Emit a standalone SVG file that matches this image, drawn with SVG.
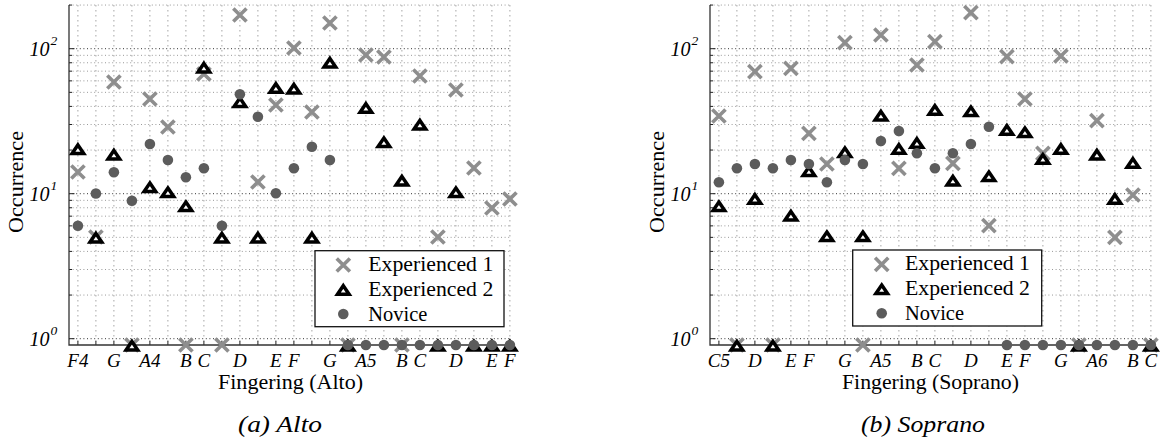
<svg xmlns="http://www.w3.org/2000/svg" xmlns:xlink="http://www.w3.org/1999/xlink" width="1165" height="441" viewBox="0 0 1165 441">
<style>
text{font-family:"Liberation Serif",serif;fill:#000}
.it{font-style:italic}
.gmaj{stroke:#333;stroke-width:1;stroke-dasharray:1 2.6;fill:none}
.gmin{stroke:#999;stroke-width:1;stroke-dasharray:1 2.6;fill:none}
.gv{stroke:#a5a5a5;stroke-width:1;stroke-dasharray:1.5 3.5;fill:none}
.tk{stroke:#222;stroke-width:1;fill:none}
.ax{stroke:#333;stroke-width:1.3;fill:none}
.e1{stroke:#8e8e8e;stroke-width:3.6;fill:none}
.e2{stroke:#000;stroke-width:3.5;fill:#fff;stroke-linejoin:miter}
.nv{fill:#5c5c5c;stroke:none}
.lg{fill:#fff;stroke:#111;stroke-width:1.3}
.yl{font-size:20px}
.ye{font-size:13.5px}
.xl{font-size:19px}
.lab{font-size:21px}
.cap{font-size:22.5px}
</style>
<defs>
<path id="mx" d="M-6.6-6.6L6.6 6.6M-6.6 6.6L6.6-6.6"/>
<path id="mt" d="M0-3.6L5.8 4.9L-5.8 4.9Z"/>
<circle id="mc" r="5.3"/>
<g id="frame">
<path class="gv" d="M77.9 5V345M95.9 5V345M113.9 5V345M131.9 5V345M149.9 5V345M167.9 5V345M185.9 5V345M203.9 5V345M221.9 5V345M239.9 5V345M257.9 5V345M275.9 5V345M293.9 5V345M311.9 5V345M329.9 5V345M347.9 5V345M365.9 5V345M383.9 5V345M401.9 5V345M419.9 5V345M437.9 5V345M455.9 5V345M473.9 5V345M491.9 5V345M509.9 5V345"/>
<path class="gmin" d="M69 295.05H510M69 269.5H510M69 251.4H510M69 237.35H510M69 225.87H510M69 216.16H510M69 207.75H510M69 200.33H510M69 150.05H510M69 124.5H510M69 106.4H510M69 92.35H510M69 80.87H510M69 71.16H510M69 62.75H510M69 55.33H510M69 5.05H510"/>
<path class="gmaj" d="M69 338.7H510M69 193.7H510M69 48.7H510"/>
<path class="tk" d="M69 338.7H74.5M69 193.7H74.5M69 48.7H74.5M69 295.05H72M69 269.5H72M69 251.4H72M69 237.35H72M69 225.87H72M69 216.16H72M69 207.75H72M69 200.33H72M69 150.05H72M69 124.5H72M69 106.4H72M69 92.35H72M69 80.87H72M69 71.16H72M69 62.75H72M69 55.33H72M69 5.05H72"/>
<path class="tk" d="M77.9 345V341M95.9 345V341M113.9 345V341M131.9 345V341M149.9 345V341M167.9 345V341M185.9 345V341M203.9 345V341M221.9 345V341M239.9 345V341M257.9 345V341M275.9 345V341M293.9 345V341M311.9 345V341M329.9 345V341M347.9 345V341M365.9 345V341M383.9 345V341M401.9 345V341M419.9 345V341M437.9 345V341M455.9 345V341M473.9 345V341M491.9 345V341M509.9 345V341"/>
<path class="ax" d="M69 5V345H510"/>
</g>
</defs>

<g id="panel-alto">
<use xlink:href="#frame" href="#frame"/>
<g id="alto-yticks">
<text class="yl it" x="49.5" y="345.7" text-anchor="end">10</text><text class="ye it" x="50.5" y="335">0</text>
<text class="yl it" x="49.5" y="200.7" text-anchor="end">10</text><text class="ye it" x="50.5" y="190">1</text>
<text class="yl it" x="49.5" y="55.7" text-anchor="end">10</text><text class="ye it" x="50.5" y="45">2</text>
</g>
<g id="alto-xticks">
<text class="xl it" x="77.9" y="367" text-anchor="middle">F4</text>
<text class="xl it" x="113.9" y="367" text-anchor="middle">G</text>
<text class="xl it" x="149.9" y="367" text-anchor="middle">A4</text>
<text class="xl it" x="185.9" y="367" text-anchor="middle">B</text>
<text class="xl it" x="203.9" y="367" text-anchor="middle">C</text>
<text class="xl it" x="239.9" y="367" text-anchor="middle">D</text>
<text class="xl it" x="275.9" y="367" text-anchor="middle">E</text>
<text class="xl it" x="293.9" y="367" text-anchor="middle">F</text>
<text class="xl it" x="329.9" y="367" text-anchor="middle">G</text>
<text class="xl it" x="365.9" y="367" text-anchor="middle">A5</text>
<text class="xl it" x="401.9" y="367" text-anchor="middle">B</text>
<text class="xl it" x="419.9" y="367" text-anchor="middle">C</text>
<text class="xl it" x="455.9" y="367" text-anchor="middle">D</text>
<text class="xl it" x="491.9" y="367" text-anchor="middle">E</text>
<text class="xl it" x="509.9" y="367" text-anchor="middle">F</text>
</g>
<text class="lab" transform="translate(22.5,182) rotate(-90)" text-anchor="middle" textLength="102" lengthAdjust="spacingAndGlyphs">Occurrence</text>
<text class="lab" x="290.5" y="388.5" text-anchor="middle" textLength="145" lengthAdjust="spacingAndGlyphs">Fingering (Alto)</text>
<g id="alto-exp1" class="e1">
<use href="#mx" x="77.9" y="172"/><use href="#mx" x="95.9" y="237"/><use href="#mx" x="113.9" y="82"/><use href="#mx" x="131.9" y="345"/><use href="#mx" x="149.9" y="99"/><use href="#mx" x="167.9" y="127"/><use href="#mx" x="185.9" y="345"/><use href="#mx" x="203.9" y="74"/><use href="#mx" x="221.9" y="345"/><use href="#mx" x="239.9" y="15"/><use href="#mx" x="257.9" y="182"/><use href="#mx" x="275.9" y="105"/><use href="#mx" x="293.9" y="48"/><use href="#mx" x="311.9" y="112"/><use href="#mx" x="329.9" y="23"/><use href="#mx" x="347.9" y="345"/><use href="#mx" x="365.9" y="55"/><use href="#mx" x="383.9" y="57"/><use href="#mx" x="401.9" y="345"/><use href="#mx" x="419.9" y="76"/><use href="#mx" x="437.9" y="237"/><use href="#mx" x="455.9" y="90"/><use href="#mx" x="473.9" y="168"/><use href="#mx" x="491.9" y="208"/><use href="#mx" x="509.9" y="199"/>
</g>
<g id="alto-exp2" class="e2">
<use href="#mt" x="77.9" y="148.5"/><use href="#mt" x="95.9" y="237"/><use href="#mt" x="113.9" y="154"/><use href="#mt" x="131.9" y="345"/><use href="#mt" x="149.9" y="186.7"/><use href="#mt" x="167.9" y="191.7"/><use href="#mt" x="185.9" y="205.7"/><use href="#mt" x="203.9" y="67"/><use href="#mt" x="221.9" y="237"/><use href="#mt" x="239.9" y="101.7"/><use href="#mt" x="257.9" y="237"/><use href="#mt" x="275.9" y="87.3"/><use href="#mt" x="293.9" y="88"/><use href="#mt" x="311.9" y="237"/><use href="#mt" x="329.9" y="62"/><use href="#mt" x="347.9" y="345"/><use href="#mt" x="365.9" y="107.3"/><use href="#mt" x="383.9" y="141.7"/><use href="#mt" x="401.9" y="180"/><use href="#mt" x="419.9" y="124"/><use href="#mt" x="437.9" y="345"/><use href="#mt" x="455.9" y="191.7"/><use href="#mt" x="473.9" y="345"/><use href="#mt" x="491.9" y="345"/><use href="#mt" x="509.9" y="345"/>
</g>
<g id="alto-novice" class="nv">
<use href="#mc" x="77.9" y="225.7"/><use href="#mc" x="95.9" y="193.5"/><use href="#mc" x="113.9" y="172.3"/><use href="#mc" x="131.9" y="200.7"/><use href="#mc" x="149.9" y="144"/><use href="#mc" x="167.9" y="160"/><use href="#mc" x="185.9" y="177.3"/><use href="#mc" x="203.9" y="168.3"/><use href="#mc" x="221.9" y="225.7"/><use href="#mc" x="239.9" y="94.3"/><use href="#mc" x="257.9" y="116.7"/><use href="#mc" x="275.9" y="193.3"/><use href="#mc" x="293.9" y="168.3"/><use href="#mc" x="311.9" y="146.7"/><use href="#mc" x="329.9" y="160"/><use href="#mc" x="347.9" y="345"/><use href="#mc" x="365.9" y="345"/><use href="#mc" x="383.9" y="345"/><use href="#mc" x="401.9" y="345"/><use href="#mc" x="419.9" y="345"/><use href="#mc" x="437.9" y="345"/><use href="#mc" x="455.9" y="345"/><use href="#mc" x="473.9" y="345"/><use href="#mc" x="491.9" y="345"/><use href="#mc" x="509.9" y="345"/>
</g>
<g id="alto-legend">
<rect class="lg" x="315" y="250.7" width="189" height="76"/>
<use class="e1" href="#mx" x="343.3" y="265"/>
<use class="e2" href="#mt" x="343.3" y="289.3"/>
<use class="nv" href="#mc" x="343.3" y="314"/>
<text class="lab" x="368.3" y="271" textLength="125" lengthAdjust="spacingAndGlyphs">Experienced 1</text>
<text class="lab" x="368.3" y="295.7" textLength="125" lengthAdjust="spacingAndGlyphs">Experienced 2</text>
<text class="lab" x="368.3" y="320.5" textLength="59" lengthAdjust="spacingAndGlyphs">Novice</text>
</g>
<text class="cap it" x="280" y="432" text-anchor="middle" textLength="84" lengthAdjust="spacingAndGlyphs">(a) Alto</text>
</g>

<g id="panel-soprano">
<g transform="translate(641,0)">
<use xlink:href="#frame" href="#frame"/>
<g id="soprano-yticks">
<text class="yl it" x="49.5" y="345.7" text-anchor="end">10</text><text class="ye it" x="50.5" y="335">0</text>
<text class="yl it" x="49.5" y="200.7" text-anchor="end">10</text><text class="ye it" x="50.5" y="190">1</text>
<text class="yl it" x="49.5" y="55.7" text-anchor="end">10</text><text class="ye it" x="50.5" y="45">2</text>
</g>
<g id="soprano-xticks">
<text class="xl it" x="77.9" y="367" text-anchor="middle">C5</text>
<text class="xl it" x="113.9" y="367" text-anchor="middle">D</text>
<text class="xl it" x="149.9" y="367" text-anchor="middle">E</text>
<text class="xl it" x="167.9" y="367" text-anchor="middle">F</text>
<text class="xl it" x="203.9" y="367" text-anchor="middle">G</text>
<text class="xl it" x="239.9" y="367" text-anchor="middle">A5</text>
<text class="xl it" x="275.9" y="367" text-anchor="middle">B</text>
<text class="xl it" x="293.9" y="367" text-anchor="middle">C</text>
<text class="xl it" x="329.9" y="367" text-anchor="middle">D</text>
<text class="xl it" x="365.9" y="367" text-anchor="middle">E</text>
<text class="xl it" x="383.9" y="367" text-anchor="middle">F</text>
<text class="xl it" x="419.9" y="367" text-anchor="middle">G</text>
<text class="xl it" x="455.9" y="367" text-anchor="middle">A6</text>
<text class="xl it" x="491.9" y="367" text-anchor="middle">B</text>
<text class="xl it" x="509.9" y="367" text-anchor="middle">C</text>
</g>
<text class="lab" transform="translate(22.5,182) rotate(-90)" text-anchor="middle" textLength="102" lengthAdjust="spacingAndGlyphs">Occurrence</text>
<text class="lab" x="289.5" y="388.5" text-anchor="middle" textLength="177" lengthAdjust="spacingAndGlyphs">Fingering (Soprano)</text>
<g id="soprano-exp1" class="e1">
<use href="#mx" x="77.9" y="116"/><use href="#mx" x="95.9" y="345"/><use href="#mx" x="113.9" y="71.7"/><use href="#mx" x="131.9" y="345"/><use href="#mx" x="149.9" y="68.3"/><use href="#mx" x="167.9" y="133.3"/><use href="#mx" x="185.9" y="164"/><use href="#mx" x="203.9" y="42.7"/><use href="#mx" x="221.9" y="345"/><use href="#mx" x="239.9" y="35"/><use href="#mx" x="257.9" y="168.3"/><use href="#mx" x="275.9" y="65"/><use href="#mx" x="293.9" y="41.7"/><use href="#mx" x="311.9" y="163.3"/><use href="#mx" x="329.9" y="12.7"/><use href="#mx" x="347.9" y="225.7"/><use href="#mx" x="365.9" y="56.7"/><use href="#mx" x="383.9" y="99"/><use href="#mx" x="401.9" y="153.3"/><use href="#mx" x="419.9" y="56"/><use href="#mx" x="437.9" y="345"/><use href="#mx" x="455.9" y="120.7"/><use href="#mx" x="473.9" y="237.3"/><use href="#mx" x="491.9" y="195"/><use href="#mx" x="509.9" y="345"/>
</g>
<g id="soprano-exp2" class="e2">
<use href="#mt" x="77.9" y="205.7"/><use href="#mt" x="95.9" y="345"/><use href="#mt" x="113.9" y="198.3"/><use href="#mt" x="131.9" y="345"/><use href="#mt" x="149.9" y="215"/><use href="#mt" x="167.9" y="170.7"/><use href="#mt" x="185.9" y="235.7"/><use href="#mt" x="203.9" y="151.7"/><use href="#mt" x="221.9" y="235.7"/><use href="#mt" x="239.9" y="115"/><use href="#mt" x="257.9" y="148.3"/><use href="#mt" x="275.9" y="142.3"/><use href="#mt" x="293.9" y="109.3"/><use href="#mt" x="311.9" y="180"/><use href="#mt" x="329.9" y="110.7"/><use href="#mt" x="347.9" y="175.7"/><use href="#mt" x="365.9" y="129.3"/><use href="#mt" x="383.9" y="131.7"/><use href="#mt" x="401.9" y="158.3"/><use href="#mt" x="419.9" y="148.3"/><use href="#mt" x="437.9" y="345"/><use href="#mt" x="455.9" y="154"/><use href="#mt" x="473.9" y="198.3"/><use href="#mt" x="491.9" y="162.3"/><use href="#mt" x="509.9" y="345"/>
</g>
<g id="soprano-novice" class="nv">
<use href="#mc" x="77.9" y="182.3"/><use href="#mc" x="95.9" y="168.3"/><use href="#mc" x="113.9" y="164"/><use href="#mc" x="131.9" y="168.3"/><use href="#mc" x="149.9" y="160"/><use href="#mc" x="167.9" y="164"/><use href="#mc" x="185.9" y="182.3"/><use href="#mc" x="203.9" y="160"/><use href="#mc" x="221.9" y="164"/><use href="#mc" x="239.9" y="141"/><use href="#mc" x="257.9" y="131"/><use href="#mc" x="275.9" y="153.3"/><use href="#mc" x="293.9" y="168.3"/><use href="#mc" x="311.9" y="153.3"/><use href="#mc" x="329.9" y="144"/><use href="#mc" x="347.9" y="126.7"/><use href="#mc" x="365.9" y="345"/><use href="#mc" x="383.9" y="345"/><use href="#mc" x="401.9" y="345"/><use href="#mc" x="419.9" y="345"/><use href="#mc" x="437.9" y="345"/><use href="#mc" x="455.9" y="345"/><use href="#mc" x="473.9" y="345"/><use href="#mc" x="491.9" y="345"/><use href="#mc" x="509.9" y="345"/>
</g>
</g>
<g id="soprano-legend">
<rect class="lg" x="852.7" y="250" width="189" height="76"/>
<use class="e1" href="#mx" x="881.7" y="264.3"/>
<use class="e2" href="#mt" x="881.7" y="288.6"/>
<use class="nv" href="#mc" x="881.7" y="313.3"/>
<text class="lab" x="905" y="270.3" textLength="125" lengthAdjust="spacingAndGlyphs">Experienced 1</text>
<text class="lab" x="905" y="295" textLength="125" lengthAdjust="spacingAndGlyphs">Experienced 2</text>
<text class="lab" x="905" y="319.8" textLength="59" lengthAdjust="spacingAndGlyphs">Novice</text>
</g>
<text class="cap it" x="923" y="431.5" text-anchor="middle" textLength="124" lengthAdjust="spacingAndGlyphs">(b) Soprano</text>
</g>
</svg>
